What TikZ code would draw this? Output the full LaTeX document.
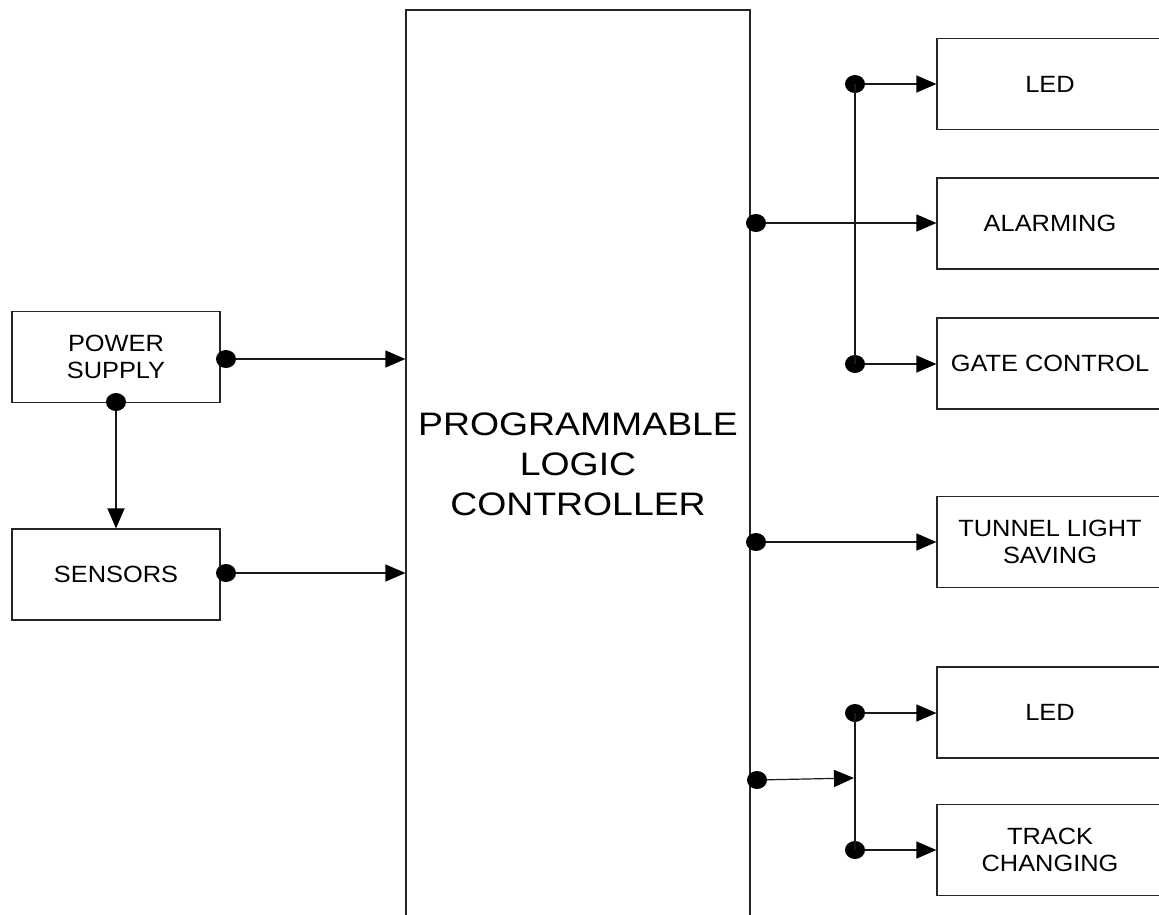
\documentclass[tikz,border=0pt]{standalone}
\usepackage{fontspec}
\setmainfont{Liberation Sans}
\newfontfamily\labelfont[FakeStretch=1.08]{Liberation Sans}
\newfontfamily\plcfont[FakeStretch=1.15]{Liberation Sans}
\usetikzlibrary{arrows.meta,shapes.geometric}

\tikzset{
  block/.style={draw=black!85, line width=1.2pt, rectangle, inner sep=0pt,
    align=center, font=\labelfont\fontsize{23.5}{27}\selectfont},
  sidebox/.style={block, minimum width=208pt, minimum height=91pt},
  outbox/.style={block, minimum width=226pt, minimum height=91pt},
  dot/.style={ellipse, fill=black, draw=none, minimum width=20pt,
    minimum height=18pt, inner sep=0pt},
  wire/.style={draw=black!90, line width=1.2pt},
  feed/.style={wire, -{Triangle[length=20pt,width=17pt,color=black]}},
}

\begin{document}
\begin{tikzpicture}[x=1pt,y=-1pt]
  \path[use as bounding box, clip] (0,0) rectangle (1159,914);
  \fill[white] (0,0) rectangle (1159,914);

  % central controller, running off the bottom of the sheet
  \node[draw=black!85, line width=1.2pt, rectangle, inner sep=0pt,
        minimum width=344pt, minimum height=930pt] (plc) at (578,475) {};
  \node[align=center, font=\plcfont\fontsize{32.5}{40}\selectfont]
        (plctext) at (578,464) {PROGRAMMABLE\\LOGIC\\CONTROLLER};

  % inputs
  \node[sidebox] (power)   at (116,357) {POWER\\SUPPLY};
  \node[sidebox] (sensors) at (116,574.5) {SENSORS};

  % outputs
  \node[outbox] (led1)   at (1050,84)   {LED};
  \node[outbox] (alarm)  at (1050,223.5){ALARMING};
  \node[outbox] (gate)   at (1050,363.5){GATE CONTROL};
  \node[outbox] (tunnel) at (1050,542)  {TUNNEL LIGHT\\SAVING};
  \node[outbox] (led2)   at (1050,712.5){LED};
  \node[outbox] (track)  at (1050,850)  {TRACK\\CHANGING};

  % input wiring
  \node[dot] (pwdot)  at (226,359) {};
  \node[dot] (pwdown) at (116,402) {};
  \node[dot] (sndot)  at (226,573) {};
  \draw[feed] (pwdot) -- (pwdot -| plc.west);
  \draw[feed] (sndot) -- (sndot -| plc.west);
  \draw[feed] (pwdown) -- (pwdown |- sensors.north);

  % upper output group
  \node[dot] (aldot)  at (756,223) {};
  \node[dot] (l1dot)  at (855,84)  {};
  \node[dot] (gtdot)  at (855,364) {};
  \draw[wire] (l1dot.center) -- (gtdot.center);
  \draw[feed] (aldot) -- (aldot -| alarm.west);
  \draw[feed] (l1dot) -- (l1dot -| led1.west);
  \draw[feed] (gtdot) -- (gtdot -| gate.west);

  % tunnel lighting
  \node[dot] (tndot) at (756,542) {};
  \draw[feed] (tndot) -- (tndot -| tunnel.west);

  % lower output group
  \node[dot] (lwdot) at (757,780) {};
  \node[dot] (l2dot) at (855,713) {};
  \node[dot] (tkdot) at (855,850) {};
  \coordinate (busjoin) at (854,778);
  \draw[wire] (l2dot.center) -- (tkdot.center);
  \draw[feed] (lwdot) -- (busjoin);
  \draw[feed] (l2dot) -- (l2dot -| led2.west);
  \draw[feed] (tkdot) -- (tkdot -| track.west);
\end{tikzpicture}
\end{document}
